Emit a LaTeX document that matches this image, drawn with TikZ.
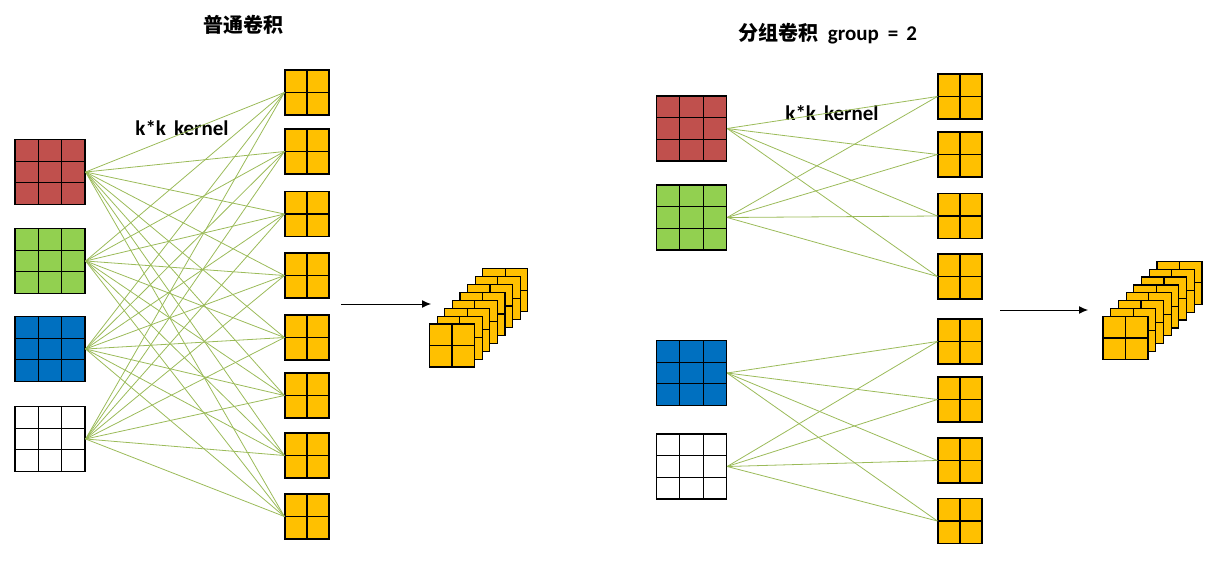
\documentclass[tikz,border=0pt]{standalone}
\usepackage{fontspec}
\setmainfont{Carlito}
\newfontfamily\cjk{Noto Sans CJK SC}
\usetikzlibrary{calc,arrows.meta}

\definecolor{mapred}{HTML}{C0504D}
\definecolor{mapgreen}{HTML}{92D050}
\definecolor{mapblue}{HTML}{0070C0}
\definecolor{outyellow}{HTML}{FFC000}
\definecolor{linkgreen}{HTML}{9BBB59}

% grid lines inside a feature map, cut at the given fractions
\newcommand{\gridcut}[1]{%
  \foreach \t in {#1} {
    \draw[line width=1.2pt] ($(path picture bounding box.north west)!\t!(path picture bounding box.north east)$)
      -- ($(path picture bounding box.south west)!\t!(path picture bounding box.south east)$);
    \draw[line width=1.2pt] ($(path picture bounding box.north west)!\t!(path picture bounding box.south west)$)
      -- ($(path picture bounding box.north east)!\t!(path picture bounding box.south east)$);
  }}

\begin{document}
\begin{tikzpicture}[x=1pt, y=-1pt,
    cell/.style ={rectangle, draw=black, line width=1.2pt, inner sep=0pt},
    map_in/.style ={cell, minimum width=70pt, minimum height=65pt,
      path picture={\gridcut{0.3333,0.6667}}},
    map_out/.style ={cell, fill=outyellow, minimum width=44pt, minimum height=45pt,
      path picture={\gridcut{0.5}}},
    map_stack/.style ={map_out, minimum width=45pt, minimum height=43pt},
    title/.style ={font=\bfseries\fontsize{21}{24}\selectfont},
    kernel/.style ={font=\bfseries\fontsize{21}{24}\selectfont},
    line/.style ={draw, linkgreen, line width=0.8pt},
    flow/.style ={draw, line width=1pt, -{Latex[length=9pt,width=8pt]}}]

    \useasboundingbox (0,0) rectangle (1215,562);

    % plain convolution
    \node [title] (plainTitle) at (243,25) {\cjk\fontsize{20}{24}\selectfont 普通卷积};
    \node [kernel] (plainKernel) at (182,128) {k*k\hspace{8pt}kernel};

    \node [map_in, fill=mapred] (inA1) at (50,172) {};
    \node [map_in, fill=mapgreen] (inA2) at (50,261) {};
    \node [map_in, fill=mapblue] (inA3) at (50,349) {};
    \node [map_in, fill=white] (inA4) at (50,439) {};

    \foreach \y [count=\j] in {92.5,151.5,214,275.5,337.5,395.5,455.5,516.5}
      \node [map_out] (outA\j) at (307,\y) {};

    \foreach \j in {8,...,1}
      \node [map_stack] (stackA\j) at ({452+7.6*(\j-1)},{345.5-7.9*(\j-1)}) {};

    \coordinate (arrowA1) at (341,304);
    \coordinate (arrowA2) at (431,304);

    % group convolution
    \node [title] (groupTitle) at (828,34)
      {{\cjk\fontsize{20}{24}\selectfont 分组卷积}\hspace{9pt}group\hspace{9pt}=\hspace{8pt}2};
    \node [kernel] (groupKernel) at (832,113) {k*k\hspace{8pt}kernel};

    \node [map_in, fill=mapred] (inB1) at (691.5,128.5) {};
    \node [map_in, fill=mapgreen] (inB2) at (691.5,217.5) {};
    \node [map_in, fill=mapblue] (inB3) at (691.5,373) {};
    \node [map_in, fill=white] (inB4) at (691.5,466.5) {};

    \foreach \y [count=\j] in {96.5,154.5,216,276.5,341.5,399.5,460.5,521}
      \node [map_out] (outB\j) at (960,\y) {};

    \foreach \j in {8,...,1}
      \node [map_stack] (stackB\j) at ({1125.5+7.7*(\j-1)},{338-7.9*(\j-1)}) {};

    \coordinate (arrowB1) at (1000,310);
    \coordinate (arrowB2) at (1088,310);

    \begin{scope}[every path/.style=line]
    % every input to every output
    \foreach \i in {1,...,4}
      \foreach \j in {1,...,8}
        \path (inA\i.east) -- (outA\j.west);

    % each group of inputs to its own outputs
    \foreach \i in {1,2}
      \foreach \j in {1,...,4}
        \path (inB\i.east) -- (outB\j.west);
    \foreach \i in {3,4}
      \foreach \j in {5,...,8}
        \path (inB\i.east) -- (outB\j.west);
    \end{scope}

    \path [flow] (arrowA1) -- (arrowA2);
    \path [flow] (arrowB1) -- (arrowB2);

\end{tikzpicture}
\end{document}
